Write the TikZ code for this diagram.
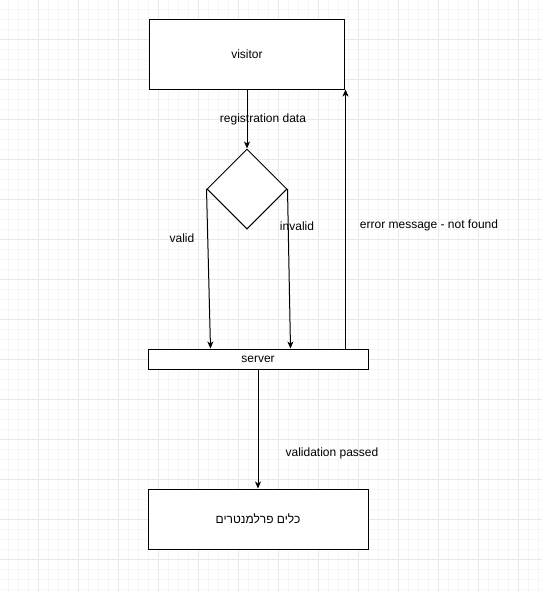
\documentclass[tikz,border=0pt]{standalone}
\usepackage{fontspec}
\setmainfont{Liberation Sans}
\newfontfamily\hebfont[Script=Hebrew]{Liberation Sans}
\TeXXeTstate=1
\usetikzlibrary{arrows.meta}
\usetikzlibrary{shapes.geometric}
\usetikzlibrary{calc}
\definecolor{gridminor}{HTML}{F6F6F6}
\definecolor{gridmajor}{HTML}{E8E8E8}
\tikzset{box/.style = {draw, line width=1pt, fill=white, font=\fontsize{12}{14}\selectfont}}
\tikzset{lbl/.style = {font=\fontsize{12}{14}\selectfont, inner sep=0}}
\tikzset{flow/.style = {line width=1pt, -{Stealth[length=7pt,width=6pt,inset=2pt]}}}

\begin{document}
\begin{tikzpicture}[x=1pt,y=-1pt]
        \fill [white] (0,0) rectangle (542,592);
        \useasboundingbox (0,0) rectangle (542,592);
        % grid
        \foreach \x in {8,18,...,538} \draw [gridminor] (\x,0) -- (\x,592);
        \foreach \y in {9,19,...,589} \draw [gridminor] (0,\y) -- (542,\y);
        \foreach \x in {38,78,...,518} \draw [gridmajor] (\x,0) -- (\x,592);
        \foreach \y in {39,79,...,559} \draw [gridmajor] (0,\y) -- (542,\y);
        % shapes
        \node [box, minimum width=195pt, minimum height=70pt] (visitor) at (247,54) {visitor};
        \node [draw, diamond, aspect=1, minimum size=80pt, inner sep=0, line width=1pt, fill=white] (check) at (247,189) {};
        \node [box, minimum width=220pt, minimum height=20pt, inner sep=0] (server) at (258,359) {server};
        \node [box, minimum width=220pt, minimum height=60pt] (tools) at (258,519) {\hebfont\beginR כלים פרלמנטרים\endR};
        % connectors
        \coordinate (validin) at ([xshift=63pt]server.north west);
        \coordinate (invalidin) at ([xshift=143pt]server.north west);
        \coordinate (errout) at ([xshift=198pt]server.north west);
        \draw [flow] (visitor.south) -- (check.north);
        \draw [flow] (check.west) -- (validin);
        \draw [flow] (check.east) -- (invalidin);
        \draw [flow] (errout) -- (errout |- visitor.south);
        \draw [flow] (server.south) -- (tools.north);
        % labels
        \node [lbl] (regdata) at (263,119) {registration data};
        \node [lbl] (validlbl) at (182,238) {valid};
        \node [lbl] (invalidlbl) at (297,226) {invalid};
        \node [lbl] (errlbl) at (429,225) {error message - not found};
        \node [lbl] (passlbl) at (332,453) {validation passed};
    \end{tikzpicture}
\end{document}
